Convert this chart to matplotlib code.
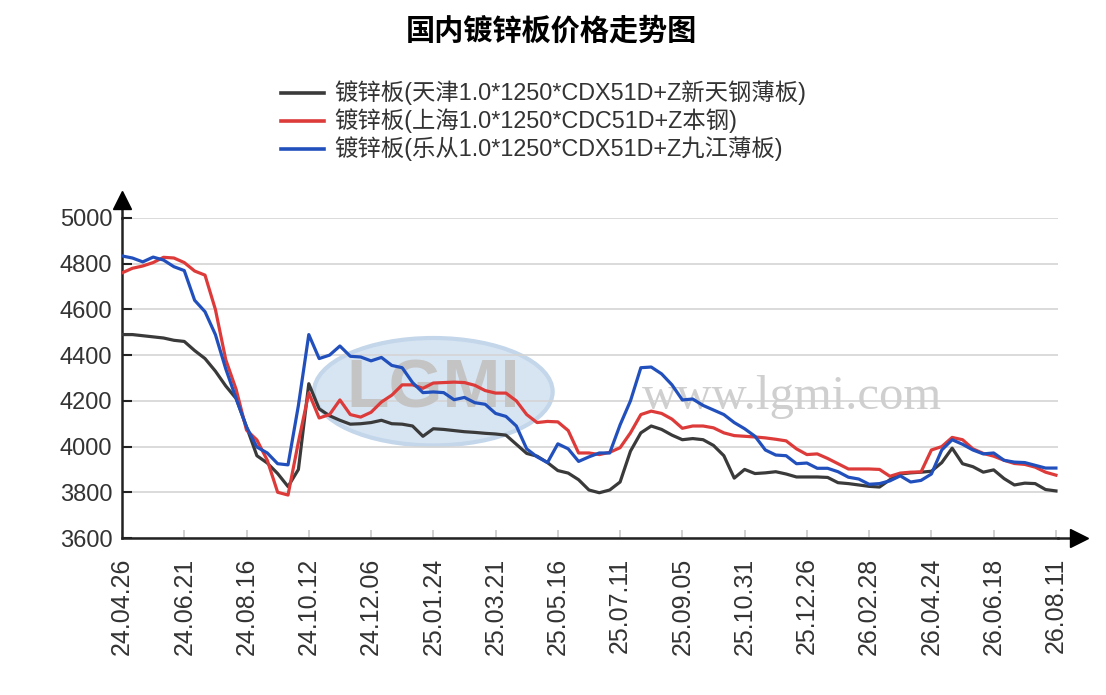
import matplotlib
matplotlib.use("Agg")
import matplotlib.pyplot as plt
import numpy as np
from matplotlib.lines import Line2D
from matplotlib.patches import Ellipse

plt.rcParams['font.family'] = ['Liberation Sans', 'Noto Sans CJK SC', 'DejaVu Sans']

# date labels on the category axis (one every 6 points)
date_labels = ['24.04.26', '24.06.21', '24.08.16', '24.10.12', '24.12.06', '25.01.24',
               '25.03.21', '25.05.16', '25.07.11', '25.09.05', '25.10.31', '25.12.26',
               '26.02.28', '26.04.24', '26.06.18', '26.08.11']

series_names = ['镀锌板(天津1.0*1250*CDX51D+Z新天钢薄板)',
                '镀锌板(上海1.0*1250*CDC51D+Z本钢)',
                '镀锌板(乐从1.0*1250*CDX51D+Z九江薄板)']

tianjin = [4490, 4490, 4485, 4480, 4475, 4465, 4460, 4420, 4385, 4330,
           4265, 4210, 4086, 3960, 3928, 3882, 3825, 3900, 4275, 4165,
           4135, 4115, 4098, 4100, 4105, 4115, 4100, 4098, 4090, 4045,
           4078, 4075, 4070, 4065, 4062, 4058, 4055, 4050, 4010, 3970,
           3958, 3930, 3895, 3884, 3855, 3810, 3798, 3810, 3845, 3980,
           4060, 4090, 4075, 4050, 4030, 4035, 4030, 4005, 3960, 3862,
           3900, 3882, 3885, 3890, 3880, 3867, 3867, 3867, 3865, 3842,
           3838, 3832, 3826, 3823, 3855, 3880, 3885, 3888, 3892, 3930,
           3993, 3925, 3912, 3888, 3898, 3860, 3832, 3840, 3838, 3812,
           3806]

shanghai = [4760, 4780, 4790, 4805, 4828, 4825, 4805, 4768, 4750, 4600,
            4380, 4250, 4072, 4029, 3940, 3800, 3788, 4020, 4235, 4125,
            4140, 4204, 4140, 4129, 4150, 4195, 4225, 4270, 4270, 4255,
            4278, 4280, 4282, 4280, 4268, 4245, 4234, 4234, 4200, 4140,
            4105, 4110, 4108, 4070, 3972, 3972, 3965, 3975, 3995, 4060,
            4140, 4155, 4145, 4120, 4080, 4090, 4090, 4082, 4060, 4048,
            4045, 4042, 4038, 4032, 4025, 3990, 3965, 3968, 3948, 3925,
            3902, 3902, 3902, 3900, 3870, 3884, 3888, 3889, 3985, 4000,
            4040, 4030, 3990, 3970, 3958, 3940, 3926, 3922, 3910, 3888,
            3875]

lecong = [4834, 4825, 4808, 4829, 4816, 4787, 4770, 4640, 4590, 4490,
          4340, 4210, 4086, 3998, 3972, 3925, 3920, 4180, 4490, 4385,
          4400, 4440, 4395, 4392, 4375, 4390, 4355, 4345, 4280, 4236,
          4239, 4236, 4205, 4215, 4192, 4185, 4145, 4132, 4090, 3990,
          3955, 3930, 4012, 3990, 3935, 3955, 3972, 3972, 4095, 4200,
          4345, 4348, 4318, 4270, 4204, 4208, 4180, 4160, 4140, 4105,
          4078, 4045, 3985, 3963, 3960, 3925, 3928, 3905, 3905, 3890,
          3866, 3858, 3835, 3838, 3850, 3872, 3845, 3852, 3880, 3985,
          4030, 4010, 3985, 3968, 3972, 3940, 3932, 3930, 3918, 3906,
          3906]

colors = ['#3a3a3a', '#dd3a3a', '#2150bd']

W, H = 1106, 695
fig = plt.figure(figsize=(W / 100, H / 100), dpi=100)
ax = fig.add_axes([122 / W, 1 - 538 / H, 936 / W, 320 / H])

x = np.arange(len(tianjin))

# watermark
ax.add_patch(Ellipse((30.0, 4240), 23, 470, facecolor='#d7e5f3', edgecolor='#c3d6ea',
                     lw=3, zorder=0))
ax.text(30.0, 4250, 'LGMI', ha='center', va='center', fontsize=50, fontweight='bold',
        color='#c4c4c4', family='Liberation Sans', zorder=1)
ax.text(64.6, 4215, 'www.lgmi.com', ha='center', va='center', fontsize=35,
        color='#cfcfcf', family='Liberation Serif', zorder=1)

for ys, c in zip([tianjin, shanghai, lecong], colors):
    ax.plot(x, ys, color=c, lw=2.3, zorder=3, solid_joinstyle='round')

ax.set_xlim(0, 90.2)
ax.set_ylim(3600, 5000)
ax.set_yticks(np.arange(3600, 5001, 200))
ax.set_xticks(np.arange(0, 91, 6))
ax.set_xticklabels(date_labels, rotation=90)
ax.yaxis.grid(True, color='#d4d4d4', lw=1.2)
ax.set_axisbelow(True)

for s in ['top', 'right']:
    ax.spines[s].set_visible(False)
for s in ['left', 'bottom']:
    ax.spines[s].set_color('#222222')
    ax.spines[s].set_linewidth(1.8)

ax.tick_params(axis='y', direction='in', length=7, width=1.5, color='#222222',
               labelsize=17, labelcolor='#333333', pad=7)
ax.tick_params(axis='x', direction='in', length=6, width=1.2, color='#c8c8c8',
               labelsize=18, labelcolor='#333333', pad=14)

# axis arrows
ax.plot([0, 0], [1, 1.05], color='#222222', lw=1.8, transform=ax.transAxes, clip_on=False)
ax.plot([0], [1.055], marker='^', color='black', markersize=13,
        transform=ax.transAxes, clip_on=False)
ax.plot([1, 1.02], [0, 0], color='#222222', lw=1.8, transform=ax.transAxes, clip_on=False)
ax.plot([1.022], [0], marker='>', color='black', markersize=13,
        transform=ax.transAxes, clip_on=False)

# title
fig.text(551 / W, 1 - 31 / H, '国内镀锌板价格走势图', ha='center', va='center',
         fontsize=21, fontweight='bold', color='black',
         family=['Noto Sans CJK SC', 'DejaVu Sans'])

# legend
for i, (name, c) in enumerate(zip(series_names, colors)):
    yy = 1 - (93 + i * 28) / H
    fig.add_artist(Line2D([281 / W, 324 / W], [yy, yy], color=c, lw=2.6))
    fig.text(334 / W, yy, name, ha='left', va='center', fontsize=16.8, color='#333333')

fig.savefig('out.png', dpi=100)
